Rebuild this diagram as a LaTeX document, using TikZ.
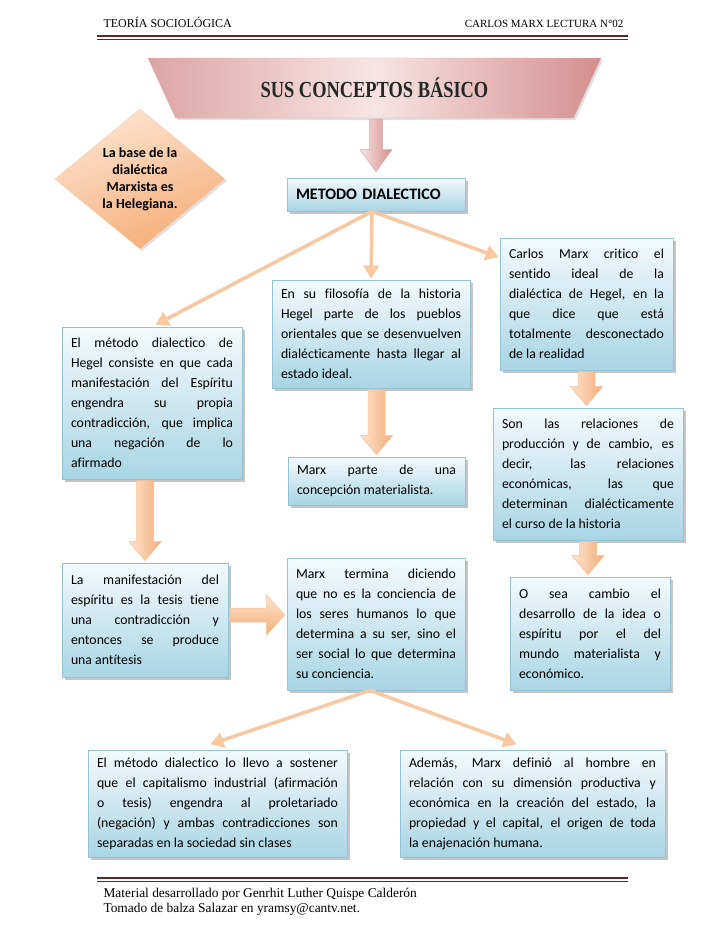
\documentclass[tikz,border=0pt]{standalone}
\usepackage{fontspec}
\setmainfont[Ligatures=NoCommon]{Carlito}
\newfontfamily\headfont{Liberation Serif}
\newfontfamily\titlefont[FakeStretch=0.8]{Liberation Serif}
\usetikzlibrary{shapes.geometric,shadows,arrows.meta,calc}

\definecolor{cajaarriba}{HTML}{F3FAFC}
\definecolor{cajaabajo}{HTML}{A9D5E5}
\definecolor{cajaborde}{HTML}{93C3D4}
\definecolor{durazno}{HTML}{F9C7A0}
\definecolor{duraznoclaro}{HTML}{FDE3CF}
\definecolor{duraznooscuro}{HTML}{F5AE78}
\definecolor{rosa}{HTML}{E4A6AE}
\definecolor{rosaclaro}{HTML}{F8E4E4}
\definecolor{rosaoscuro}{HTML}{D48E8E}
\definecolor{granate}{HTML}{632523}

\newcommand{\cuerpo}{\fontsize{13.8}{20}\selectfont\parindent=0pt\hbadness=10000}

\tikzset{
	caja/.style={draw=cajaborde, line width=0.8pt, top color=cajaarriba, bottom color=cajaabajo,
		drop shadow={shadow xshift=2.5pt, shadow yshift=-2.5pt, fill=black!45, opacity=0.5},
		inner xsep=9pt, inner ysep=3pt, align=justify, font=\cuerpo},
	linea/.style={draw=durazno, line width=3.5pt, -{Triangle[width=15pt,length=13pt]}},
	% flecha de bloque: medio cuerpo, media punta, largo de punta, hueco final
	bloqueabajo/.style n args={4}{to path={
		([xshift=-#1,yshift=-1pt]\tikztostart) -- ([xshift=-#1,yshift=#3+#4]\tikztotarget)
		-- ([xshift=-#2,yshift=#3+#4]\tikztotarget) -- ([yshift=#4]\tikztotarget)
		-- ([xshift=#2,yshift=#3+#4]\tikztotarget) -- ([xshift=#1,yshift=#3+#4]\tikztotarget)
		-- ([xshift=#1,yshift=-1pt]\tikztostart) -- cycle}},
	bloquederecha/.style n args={4}{to path={
		([xshift=1pt,yshift=#1]\tikztostart) -- ([xshift=-#3-#4,yshift=#1]\tikztotarget)
		-- ([xshift=-#3-#4,yshift=#2]\tikztotarget) -- ([xshift=-#4]\tikztotarget)
		-- ([xshift=-#3-#4,yshift=-#2]\tikztotarget) -- ([xshift=-#3-#4,yshift=-#1]\tikztotarget)
		-- ([xshift=1pt,yshift=-#1]\tikztostart) -- cycle}},
	flecha/.style={bloqueabajo={8.5pt}{16pt}{19pt}{2pt}, left color=duraznoclaro, right color=duraznooscuro,
		draw=duraznooscuro!80, line width=0.5pt},
	flechader/.style={bloquederecha={7pt}{20pt}{18pt}{2pt}, top color=duraznoclaro, bottom color=duraznooscuro,
		draw=duraznooscuro!80, line width=0.5pt},
	flecharosa/.style={bloqueabajo={6.5pt}{16pt}{22pt}{6pt}, left color=rosaclaro, right color=rosaoscuro,
		draw=rosaoscuro!80, line width=0.5pt},
}

\begin{document}
\begin{tikzpicture}[x=1pt,y=-1pt]
	\fill[white] (0,0) rectangle (728,943);
	\useasboundingbox (0,0) rectangle (728,943);

	% encabezado
	\node[anchor=base west, font=\headfont\fontsize{12}{14}\selectfont] (izq) at (100,27) {TEORÍA SOCIOLÓGICA};
	\node[anchor=base east, font=\headfont\fontsize{11}{13}\selectfont] (der) at (627,27) {CARLOS MARX LECTURA N°02};
	\draw[granate, line width=2.5pt] (97,36) -- (628,36);
	\draw[granate, line width=0.7pt] (97,39.5) -- (628,39.5);

	% titulo y rombo
	\node[trapezium, shape border rotate=180, trapezium angle=44, trapezium stretches body,
		minimum width=453pt, minimum height=60pt, draw=rosaoscuro!70,
		left color=rosaoscuro!80, right color=rosaoscuro, middle color=rosaclaro,
		drop shadow={shadow xshift=2pt, shadow yshift=-2pt, fill=black!30, opacity=0.4},
		font=\titlefont\bfseries\fontsize{23}{25}\selectfont, text=black!85] (titulo) at (374.5,88) {SUS CONCEPTOS BÁSICO};
	\node[diamond, aspect=1.2, inner sep=0pt, minimum width=170pt, minimum height=140pt,
		draw=duraznooscuro!60, top color=duraznoclaro, bottom color=duraznooscuro, shading angle=20,
		drop shadow={shadow xshift=2pt, shadow yshift=-2pt, fill=black!30, opacity=0.4},
		align=center, font=\bfseries\fontsize{14}{17}\selectfont] (base) at (140,179)
		{La base de la\\dialéctica\\Marxista es\\la Helegiana.};

	% cajas
	\node[caja, align=left, text width=160pt, minimum height=33pt,
		font=\bfseries\fontsize{16}{18}\selectfont] (metodo) at (376,194.5) {METODO DIALECTICO};
	\node[caja, text width=155pt, minimum height=132pt] (carlos) at (586.5,304)
		{Carlos Marx critico el\linebreak sentido ideal de la\linebreak dialéctica de Hegel, en la\linebreak que dice que está\linebreak totalmente desconectado\linebreak de la realidad};
	\node[caja, text width=180pt, minimum height=108pt] (filosofia) at (371,334)
		{En su filosofía de la historia\linebreak Hegel parte de los pueblos\linebreak orientales que se desenvuelven\linebreak dialécticamente hasta llegar al\linebreak estado ideal.};
	\node[caja, text width=162pt, minimum height=152pt] (hegel) at (152,403)
		{El método dialectico de\linebreak Hegel consiste en que cada\linebreak manifestación del Espíritu\linebreak engendra su propia\linebreak contradicción, que implica\linebreak una negación de lo\linebreak afirmado};
	\node[caja, text width=159pt, minimum height=48pt] (parte) at (376.5,481)
		{Marx parte de una\linebreak concepción materialista.};
	\node[caja, text width=172pt, minimum height=132pt] (son) at (588,474)
		{Son las relaciones de\linebreak producción y de cambio, es\linebreak decir, las relaciones\linebreak económicas, las que\linebreak determinan dialécticamente\linebreak el curso de la historia};
	\node[caja, text width=142pt, minimum height=113pt] (osea) at (590,633.5)
		{O sea cambio el\linebreak desarrollo de la idea o\linebreak espíritu por el del\linebreak mundo materialista y\linebreak económico.};
	\node[caja, text width=148pt, minimum height=114pt] (manif) at (145,620)
		{La manifestación del\linebreak espíritu es la tesis tiene\linebreak una contradicción y\linebreak entonces se produce\linebreak una antítesis};
	\node[caja, text width=160pt, minimum height=132pt] (termina) at (376,624)
		{Marx termina diciendo\linebreak que no es la conciencia de\linebreak los seres humanos lo que\linebreak determina a su ser, sino el\linebreak ser social lo que determina\linebreak su conciencia.};
	\node[caja, text width=241pt, minimum height=107pt] (llevo) at (217.5,803.5)
		{El método dialectico lo llevo a sostener\linebreak que el capitalismo industrial (afirmación\linebreak o tesis) engendra al proletariado\linebreak (negación) y ambas contradicciones son\linebreak separadas en la sociedad sin clases};
	\node[caja, text width=247pt, minimum height=107pt] (ademas) at (532.5,803.5)
		{Además, Marx definió al hombre en\linebreak relación con su dimensión productiva y\linebreak económica en la creación del estado, la\linebreak propiedad y el capital, el origen de toda\linebreak la enajenación humana.};
	\coordinate (puntader) at ([yshift=5pt]manif.east -| termina.west);

	% flechas
	\draw[flecharosa] (metodo.north |- titulo.south) to (metodo.north);
	\draw[linea, shorten >=4pt] ([xshift=-4pt]metodo.south) -- (hegel.north);
	\draw[linea, shorten >=1pt] ([xshift=-4pt]metodo.south) -- (filosofia.north);
	\draw[linea, shorten >=1pt] ([xshift=-4pt]metodo.south) -- ($(carlos.north west)!0.15!(carlos.south west)$);
	\draw[flecha] (parte.north |- filosofia.south) to (parte.north);
	\draw[flecha] (carlos.south) to (carlos.south |- son.north);
	\draw[flecha] (son.south) to (son.south |- osea.north);
	\draw[flecha] (manif.north |- hegel.south) to (manif.north);
	\draw[flechader] ([yshift=5pt]manif.east) to (puntader);
	\draw[linea, shorten >=1pt] ([xshift=-6pt]termina.south) -- ([xshift=-8pt,yshift=5pt]llevo.north);
	\draw[linea, shorten >=1pt] ([xshift=-6pt]termina.south) -- ([xshift=-15pt,yshift=5pt]ademas.north);

	% pie
	\draw[granate, line width=2.5pt] (97,878) -- (628,878);
	\draw[granate, line width=0.7pt] (97,881.5) -- (628,881.5);
	\node[anchor=base west, font=\headfont\fontsize{13.4}{15}\selectfont] (pie1) at (100,897) {Material desarrollado por Genrhit Luther Quispe Calderón};
	\node[anchor=base west, font=\headfont\fontsize{13.4}{15}\selectfont] (pie2) at (100,912) {Tomado de balza Salazar en yramsy@cantv.net.};
\end{tikzpicture}
\end{document}
